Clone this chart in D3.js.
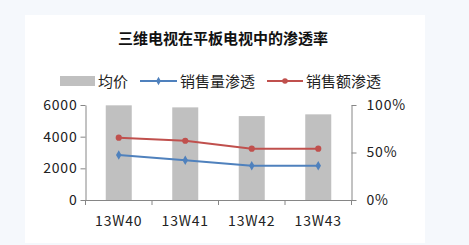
<!DOCTYPE html>
<html><head><meta charset="utf-8">
<script src="https://cdn.jsdelivr.net/npm/d3@7"></script>
<style>body{margin:0;background:#f5f8fc;}svg{display:block;}</style>
</head><body>
<svg id="c" width="469" height="245"></svg>
<script>
const categories = ["13W40","13W41","13W42","13W43"];
const avgPrice = [5980, 5850, 5300, 5410];
const volumeShare = [0.474, 0.418, 0.361, 0.361];
const valueShare = [0.656, 0.624, 0.54, 0.54];
const leftTicks = [0, 2000, 4000, 6000];
const rightTicks = [0, 0.5, 1];

const svg = d3.select("#c");
const font = "'Microsoft YaHei','Noto Sans CJK SC',sans-serif";
svg.append("rect").attr("x",25).attr("y",15).attr("width",400).attr("height",228).attr("fill","#fff");

const L=85.5, R=351.5, T=105, B=200;
const xb = d3.scaleBand().domain(categories).range([L,R]);
const yL = d3.scaleLinear().domain([0,6000]).range([B,T]);
const yR = d3.scaleLinear().domain([0,1]).range([B,T]);

svg.append("text").attr("x",223).attr("y",44).attr("text-anchor","middle")
  .attr("font-family",font).attr("font-weight","bold").attr("font-size",15).attr("fill","#111")
  .text("三维电视在平板电视中的渗透率");

// bars
svg.selectAll(".bar").data(avgPrice).enter().append("rect")
  .attr("x",(d,i)=>xb(categories[i])+xb.bandwidth()/2-13).attr("width",26)
  .attr("y",d=>yL(d)).attr("height",d=>B-yL(d)).attr("fill","#c0c0c0");

// axes
const axL = svg.append("g").attr("transform",`translate(${L},0)`)
  .call(d3.axisLeft(yL).tickValues(leftTicks).tickSize(5).tickPadding(3).tickSizeOuter(0).tickFormat(d3.format("d")));
const axR = svg.append("g").attr("transform",`translate(${R},0)`)
  .call(d3.axisRight(yR).tickValues(rightTicks).tickSize(5).tickPadding(10).tickSizeOuter(0).tickFormat(d3.format(".0%")));
const axX = svg.append("g").attr("transform",`translate(0,${B})`)
  .call(d3.axisBottom(xb).tickSize(0).tickPadding(16).tickSizeOuter(0));
// category boundary ticks
svg.selectAll(".bt").data(d3.range(categories.length+1)).enter().append("line")
  .attr("x1",i=>L+i*xb.step()).attr("x2",i=>L+i*xb.step()).attr("y1",B).attr("y2",B+5).attr("stroke","#868686");
[axL,axR,axX].forEach(a=>{
  a.selectAll("path,line").attr("stroke","#868686");
  a.selectAll("text").attr("font-family",font).attr("font-size",14).attr("letter-spacing","0.8px").attr("fill","#222");
});

const cx = c => xb(c)+xb.bandwidth()/2;
function series(vals,color,shape){
  const line = d3.line().x((d,i)=>cx(categories[i])).y(d=>yR(d));
  svg.append("path").datum(vals).attr("d",line).attr("fill","none").attr("stroke",color).attr("stroke-width",2);
  svg.selectAll(null).data(vals).enter().append("path")
    .attr("transform",(d,i)=>`translate(${cx(categories[i])},${yR(d)})`)
    .attr("d",d3.symbol().type(shape).size(shape===d3.symbolCircle?30:26)()).attr("fill",color);
}
series(volumeShare,"#4f81bd",d3.symbolDiamond);
series(valueShare,"#c0504d",d3.symbolCircle);

// legend
const lg = svg.append("g").attr("font-family",font).attr("font-size",15).attr("fill","#222");
lg.append("rect").attr("x",60).attr("y",76).attr("width",35).attr("height",10).attr("fill","#c0c0c0");
lg.append("text").attr("x",98).attr("y",87).text("均价");
lg.append("line").attr("x1",140).attr("x2",177).attr("y1",81).attr("y2",81).attr("stroke","#4f81bd").attr("stroke-width",2);
lg.append("path").attr("transform","translate(158.5,81)").attr("d",d3.symbol().type(d3.symbolDiamond).size(20)()).attr("fill","#4f81bd");
lg.append("text").attr("x",180).attr("y",87).text("销售量渗透");
lg.append("line").attr("x1",267).attr("x2",303).attr("y1",81).attr("y2",81).attr("stroke","#c0504d").attr("stroke-width",2);
lg.append("circle").attr("cx",285).attr("cy",81).attr("r",2.8).attr("fill","#c0504d");
lg.append("text").attr("x",306).attr("y",87).text("销售额渗透");
</script>
</body></html>
